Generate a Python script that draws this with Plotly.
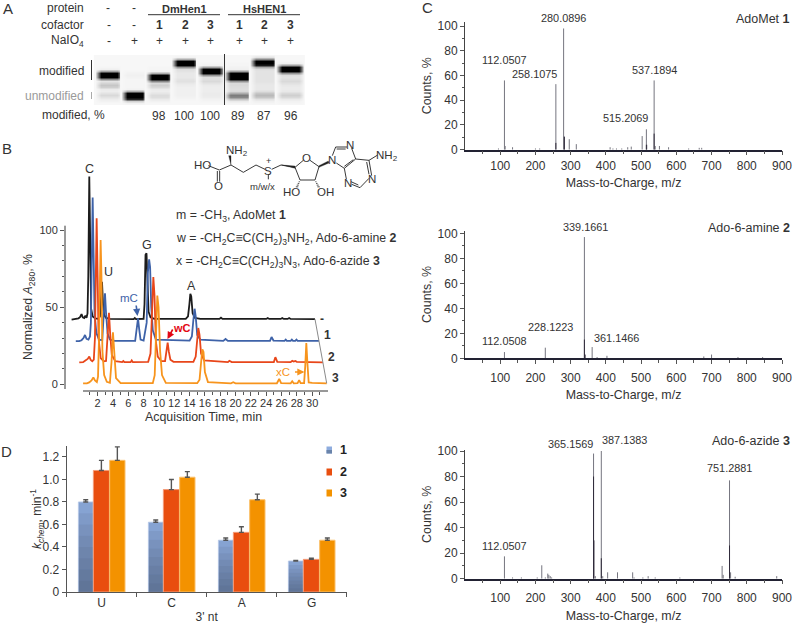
import plotly.graph_objects as go

W, H = 796, 624
FONT = "Liberation Sans"
INK = "#333333"

# ---------- Panel A data: gel ----------
lane_centers = [108.7, 134.3, 159.3, 185, 210.7, 239, 264, 290]
lane_halfwidths = [11, 10.5, 11, 11, 11, 12, 11.5, 11.5]
gel_rows = [2 * i for i in range(26)]
gel_lanes = [
    [0,0,0,0,0,0,.01,.03,.35,1,1,1,.45,.08,.14,.2,.16,.05,.04,.08,.12,.08,.04,.02,0,0],
    [0,0,0,0,0,0,0,0,.01,.02,.03,.02,.01,.01,.01,.01,.01,.02,.3,1,1,1,.85,.15,.02,0],
    [0,0,0,0,0,0,.01,.01,.02,.3,1,1,1,.45,.12,.16,.12,.05,.04,.07,.11,.1,.05,.02,0,0],
    [0,.02,.3,1,1,1,.4,.1,.08,.06,.06,.06,.08,.09,.06,.04,.03,.03,.03,.03,.03,.02,.01,0,0,0],
    [0,0,0,0,.01,.02,.35,1,1,1,.4,.1,.1,.12,.08,.05,.04,.04,.04,.05,.05,.04,.02,.01,0,0],
    [0,0,0,0,.01,.01,.02,.03,.35,1,1,1,1,.4,.12,.12,.11,.1,.12,.3,.5,.45,.2,.05,.01,0],
    [.01,.08,.45,1,1,.9,.3,.1,.08,.08,.08,.08,.08,.08,.07,.06,.06,.06,.1,.2,.25,.2,.08,.03,.01,0],
    [0,0,0,.01,.03,.35,1,1,1,.4,.1,.08,.1,.12,.09,.06,.05,.05,.06,.12,.16,.12,.05,.02,.01,0],
]
lane_cofactor = ["-", "-", "1", "2", "3", "1", "2", "3"]
lane_naio4 = ["-", "+", "+", "+", "+", "+", "+", "+"]
lane_modified = ["", "", "98", "100", "100", "89", "87", "96"]
lane_edge = [0, 0.5, 1, 1, 0.5, 0]

# ---------- Panel B data: chromatograms (time, min / normalized A280, %) ----------
black_t = [-1.4,-0.8,-0.5,-0.3,-0.1,0.05,0.25,0.4,0.55,0.68,0.78,0.91,1.03,1.15,1.35,1.7,2.1,2.3,2.42,2.57,2.7,2.85,3.1,3.6,6.7,6.85,7.0,8.0,8.12,8.25,8.38,8.5,8.65,8.9,9.4,13.5,13.8,13.98,14.1,14.22,14.4,14.7,15.4,17.9,18.1,18.3,24.0,24.2,24.4,25.9,26.1,26.3,26.8,27.0,27.2,30.37]
black_y = [42,42.3,42.8,43.5,45.5,43.4,43,44.5,43.2,46,70,134.6,75,49,44,42.8,42.5,44,54,66.5,52,45,43,42.4,42.3,43,42.3,42.5,52,84,85,66,47,43.5,42.4,42.4,44,52,58.7,57,46,43,42.4,42.4,43.2,42.4,42.4,43,42.4,42.4,43,42.4,42.4,43,42.4,42.3]

blue_t = [-0.85,-0.4,-0.1,0.15,0.35,0.55,0.8,1.0,1.12,1.22,1.35,1.47,1.6,1.85,2.2,2.6,2.78,2.96,3.1,3.3,3.6,4.2,6.9,7.08,7.27,7.42,7.6,8.0,8.4,8.55,8.72,8.85,9.0,9.2,9.6,14.0,14.3,14.5,14.66,14.8,15.0,15.4,18.4,18.7,19.0,24.5,24.7,24.95,26.4,26.55,26.7,27.2,27.35,27.5,27.8,27.95,28.1,30.9]
blue_y = [28,28,28.6,30,32,29.5,29,31,40,90,121,85,45,33,29,28.6,44,59,46,33,29,28.2,28.2,34,42.8,36,29,28.4,40,72,81,76,50,35,29,28.3,31,42,49,44,32,29,28.2,29.4,28.2,28.2,30.7,28.4,28.2,29,28.2,28.2,29,28.2,28.2,29,28.2,28.2]

red_t = [-0.4,0.1,0.4,0.7,0.91,1.1,1.3,1.5,1.65,1.76,1.87,2.0,2.12,2.4,2.8,3.1,3.3,3.48,3.62,3.85,4.3,5.2,5.35,5.5,6.3,6.45,6.6,8.6,8.9,9.08,9.27,9.42,9.6,9.85,10.3,10.8,10.98,11.14,11.3,11.5,11.9,14.5,14.8,15.0,15.14,15.3,15.5,15.9,19.0,19.2,19.5,25.0,25.2,25.45,27.2,27.4,27.6,27.8,28.0,31.4]
red_y = [14.2,14.4,15.5,16.5,18,15.8,15,16,30,80,107.6,70,30,17,15,15.2,35,46.4,34,19,15,14.4,15.1,14.4,14.4,15.5,14.4,14.6,20,50,69.5,58,28,18,15,15,21,27,21,16,14.6,14.6,18,30,36.5,32,20,15.5,14.4,15.3,14.4,14.4,17.6,14.6,14.4,15.2,14.8,15.2,14.6,14.2]

orange_t = [0.1,0.6,0.9,1.2,1.44,1.65,1.9,2.05,2.18,2.28,2.39,2.5,2.62,2.85,3.2,3.6,3.82,4.0,4.15,4.4,5.0,9.2,9.45,9.62,9.79,9.95,10.15,10.4,10.9,15.0,15.3,15.5,15.67,15.82,16.0,16.4,19.4,19.7,20.0,25.4,25.7,25.95,27.2,27.4,27.6,28.1,28.3,28.5,28.95,29.1,29.24,29.38,29.55,30.0,31.9]
orange_y = [0.6,0.7,1.3,2.5,4.5,2.5,1.5,5,30,75,93.5,70,22,6,1.6,1,15,33.7,22,4,0.8,0.8,6,30,57.5,50,22,6,1,0.8,3,14,22.7,21,8,1.5,0.7,1.4,0.7,0.7,3.5,0.8,0.7,2,0.7,0.8,2.7,0.8,0.8,12,26.8,14,1.2,0.9,0.7]

series_end_t = [30.37, 30.9, 31.4, 31.9]
series_end_y = [42.3, 28.2, 14.2, 0.7]

# ---------- Panel D data ----------
nt_categories = ["U", "C", "A", "G"]
k1 = [0.80, 0.62, 0.46, 0.275]
k2 = [1.08, 0.91, 0.53, 0.29]
k3 = [1.17, 1.02, 0.82, 0.46]
e1 = [0.02, 0.02, 0.02, 0.005]
e2 = [0.09, 0.09, 0.05, 0.01]
e3 = [0.12, 0.05, 0.05, 0.02]

# ---------- Panel C data: spectra (m/z, counts %) ----------
s1_mz = [95,112,114,135,200,212,258,280,282,296,316,412,420,430,445,462,472,503,515,516,537,540,552,578,635,665,672]
s1_ct = [1,56,3,2,1,1,53,98,10.5,8.5,4.5,2,1,1,1,2,2.5,11,16.5,4,56,3,3,2,1,1.5,1.5]
s1_dark_mz = [258,282,515,537]
s1_dark_ct = [5.5,10.5,4,13]
s2_mz = [112,228,339,361,375,403,678,700,775,845]
s2_ct = [5,8.5,97,9,1,2,1.5,3,1,1]
s2_dark_mz = [339,341]
s2_dark_ct = [15,3]
s3_mz = [112,135,160,205,218,228,235,238,242,246,365,370,387,391,405,433,476,480,505,520,540,610,730,733,751,754,767,885]
s3_ct = [17.5,1,1,1,10.5,1,4,3,2,1,98,2,100,2,5,5,5,1,1,2,1,1,10,3,77,5,1.5,2]
s3_dark_mz = [365,366,387,751]
s3_dark_ct = [80,30,16,26]


def fx(p):
    return p / W


def fy(p):
    return 1 - p / H


def dom_x(a, b):
    return [fx(a), fx(b)]


def dom_y(top, bottom):
    return [fy(bottom), fy(top)]


annotations = []
shapes = []


def text(x, y, s, size=12, color=INK, anchor="center", **kw):
    annotations.append(dict(x=fx(x), y=fy(y), xref="paper", yref="paper", text=s, showarrow=False,
                            xanchor=anchor, yanchor="middle", align=anchor if anchor != "center" else "center",
                            font=dict(size=size, color=color, family=FONT),
                            borderpad=0, **kw))


def seg(x0, y0, x1, y1, color="#222222", width=1.0):
    shapes.append(dict(type="line", xref="paper", yref="paper", x0=fx(x0), y0=fy(y0), x1=fx(x1), y1=fy(y1),
                       line=dict(color=color, width=width)))


def poly(points, color="#222222"):
    d = "M " + " L ".join(f"{fx(a):.5f} {fy(b):.5f}" for a, b in points) + " Z"
    shapes.append(dict(type="path", xref="paper", yref="paper", path=d, fillcolor=color, line=dict(color=color, width=0.3)))


fig = go.Figure()

# ---------- Panel A ----------
shapes.append(dict(type="rect", xref="paper", yref="paper", x0=fx(96), x1=fx(302), y0=fy(105), y1=fy(55),
                   fillcolor="#f7f7f7", line=dict(width=0), layer="below"))
for c, hw, vals in zip(lane_centers, lane_halfwidths, gel_lanes):
    xs = [c - hw - 2.5, c - hw, c - hw + 3, c + hw - 3, c + hw, c + hw + 2.5]
    z = [[v * e for e in lane_edge] for v in vals]
    fig.add_trace(go.Heatmap(x=xs, y=gel_rows, z=z, xaxis="x", yaxis="y", zmin=0, zmax=1, zsmooth="best",
                             colorscale=[[0, "#f7f7f7"], [1, "#000000"]], showscale=False, hoverinfo="skip"))

text(85, 8, "protein", anchor="right")
text(85, 25.5, "cofactor", anchor="right")
text(85, 41, "NaIO<sub>4</sub>", anchor="right")
text(108, 8, "-")
text(134, 8, "-")
for c, s in zip(lane_centers, lane_cofactor):
    text(c, 25.5, s if s == "-" else f"<b>{s}</b>")
for c, s in zip(lane_centers, lane_naio4):
    text(c, 41, s)
text(184, 9, "<b>DmHen1</b>", size=11)
text(264, 9, "<b>HsHEN1</b>", size=11)
seg(148, 14.7, 220, 14.7, "#333333", 1)
seg(228, 14.7, 300, 14.7, "#333333", 1)
text(85, 71, "modified", anchor="right")
text(85, 96, "unmodified", anchor="right", color="#9a9a9a")
text(41, 115, "modified, %", anchor="left")
for c, s in zip([159, 184, 210, 238, 264, 291], lane_modified[2:]):
    text(c, 115.5, s)
seg(91.5, 60, 91.5, 80, "#333333", 1)
seg(91.5, 92, 91.5, 99, "#aaaaaa", 1)
seg(224.5, 54, 224.5, 105, "#333333", 1)

# ---------- Panel B ----------
for t, y, col in [(black_t, black_y, "#1c1c1c"), (blue_t, blue_y, "#3e62a8"),
                  (red_t, red_y, "#e8461a"), (orange_t, orange_y, "#f7941d")]:
    fig.add_trace(go.Scatter(x=t, y=y, mode="lines", xaxis="x2", yaxis="y2", hoverinfo="skip",
                             line=dict(color=col, width=1.8)))
fig.add_trace(go.Scatter(x=series_end_t, y=series_end_y, mode="lines", xaxis="x2", yaxis="y2",
                         hoverinfo="skip", line=dict(color="#8a8a8a", width=1)))

text(89, 169, "C", size=12.5)
text(108, 272, "U", size=12.5)
text(147, 245, "G", size=12.5)
text(191, 286, "A", size=12.5)
text(129, 298, "mC", size=11.5, color="#3e62a8")
text(182, 328, "<b>wC</b>", size=11, color="#e30613")
text(283, 372, "xC", size=11.5, color="#f7941d")
for tx, ty, ax, ay, col in [(137.5, 316, -1.5, -12, "#3e62a8"), (167.5, 339, 6, -11, "#e30613"), (304.5, 372, -11, 0, "#f7941d")]:
    annotations.append(dict(x=fx(tx), y=fy(ty), xref="paper", yref="paper", ax=ax, ay=ay, axref="pixel", ayref="pixel",
                            text="", showarrow=True, arrowhead=2, arrowsize=0.9, arrowwidth=1.6, arrowcolor=col, standoff=0))
text(322, 319, "<b>-</b>", size=12)
text(327, 335, "<b>1</b>", size=12)
text(331, 357, "<b>2</b>", size=12)
text(335, 378, "<b>3</b>", size=12)
text(174.5, 216, "m = -CH<sub>3</sub>, AdoMet <b>1</b>", anchor="left", size=12.3)
text(174.5, 239, "w = -CH<sub>2</sub>C≡C(CH<sub>2</sub>)<sub>3</sub>NH<sub>2</sub>, Ado-6-amine <b>2</b>", anchor="left", size=12.3)
text(174.5, 262, "x = -CH<sub>2</sub>C≡C(CH<sub>2</sub>)<sub>3</sub>N<sub>3</sub>, Ado-6-azide <b>3</b>", anchor="left", size=12.3)
text(203, 416.5, "Acquisition Time, min", size=12.4)
text(29, 307, "Normalized <i>A</i><sub>280</sub>, %", size=12.3, textangle=-90)
seg(65, 225.7, 65, 389, "#333333", 1)
seg(83, 391, 328, 391, "#333333", 1)


# Structure
def sx(z):
    return 185 + z / 3


def sy(z):
    return 135 + z / 3


bonds = [
    (70, 92, 103, 105), (103, 105, 138, 90), (138, 90, 175, 112), (175, 112, 213, 90), (213, 90, 240, 103),
    (97, 108, 97, 140), (104, 108, 104, 140), (260, 103, 288, 90), (288, 90, 330, 97), (250, 120, 250, 133),
    (330, 97, 355, 76), (375, 76, 402, 95), (402, 95, 390, 135), (390, 135, 345, 135), (345, 135, 330, 97),
    (442, 62, 452, 36), (452, 36, 486, 36), (455, 42, 482, 42), (500, 40, 512, 72), (512, 72, 478, 100), (505, 74, 478, 94),
    (478, 100, 454, 84), (512, 72, 552, 76), (552, 76, 560, 122), (545, 81, 552, 118), (552, 130, 525, 158), (525, 158, 500, 148),
    (520, 150, 498, 140), (478, 100, 484, 132), (552, 76, 578, 60),
]
for a, b, c, d in bonds:
    seg(sx(a), sy(b), sx(c), sy(d), "#222222", 0.9)
poly([(sx(138), sy(90)), (sx(131), sy(62)), (sx(138), sy(62))])
poly([(sx(290), sy(90)), (sx(330), sy(93)), (sx(330), sy(100))])
poly([(sx(402), sy(92)), (sx(430), sy(78)), (sx(432), sy(84)), (sx(402), sy(97))])
for (a, b, c, d) in [(345, 135, 335, 158), (390, 135, 402, 158)]:
    for k in range(1, 5):
        u = k / 4.5
        mx, my = a + (c - a) * u, b + (d - b) * u
        hw = 1 + 3 * u
        seg(sx(mx - hw), sy(my), sx(mx + hw), sy(my), "#222222", 0.8)
atom = 11.5
text(sx(53), sy(89), "HO", size=atom)
text(sx(100), sy(154), "O", size=atom)
text(sx(155), sy(47), "NH<sub>2</sub>", size=atom)
text(sx(250), sy(108), "S", size=atom)
text(sx(250), sy(79), "+", size=9)
text(sx(232), sy(155), "m/w/x", size=9.5)
text(sx(365), sy(69), "O", size=atom)
text(sx(318), sy(172), "HO", size=atom)
text(sx(421), sy(172), "OH", size=atom)
text(sx(440), sy(74), "N", size=atom)
text(sx(496), sy(31), "N", size=atom)
text(sx(488), sy(145), "N", size=atom)
text(sx(561), sy(131), "N", size=atom)
text(sx(605), sy(64), "NH<sub>2</sub>", size=atom)

# ---------- Panel D ----------
bar_specs = [
    (k1, e1, "#8eacde", "#b9cbea", -0.333, 0.21),
    (k2, e2, "#e94e0f", "#f49a78", -0.119, 0.229),
    (k3, e3, "#f39200", "#fbc06a", 0.114, 0.219),
]
for vals, errs, col, edge, off, wid in bar_specs:
    fig.add_trace(go.Bar(x=nt_categories, y=vals, offset=off, width=wid, xaxis="x3", yaxis="y3", hoverinfo="skip",
                         marker=dict(color=col, line=dict(color=edge, width=1)),
                         error_y=dict(type="data", array=errs, arrayminus=[0, 0, 0, 0], symmetric=False,
                                      color="#555555", thickness=1.4, width=2.5)))
gradient_steps = 8
for k in range(1, gradient_steps + 1):
    layer = [v * k / gradient_steps for v in k1]
    fig.add_trace(go.Bar(x=nt_categories, y=layer, offset=-0.328, width=0.2, xaxis="x3", yaxis="y3", hoverinfo="skip",
                         marker=dict(color="rgba(60,70,90,0.085)", line=dict(width=0))))

for py, col, s in [(450, "#8eacde", "1"), (472, "#e94e0f", "2"), (493, "#f39200", "3")]:
    shapes.append(dict(type="rect", xref="paper", yref="paper", x0=fx(326.5), x1=fx(332), y0=fy(py + 3.5), y1=fy(py - 3.5),
                       fillcolor=col, line=dict(width=0)))
    text(343, py - 0.5, f"<b>{s}</b>", size=12.5, color="#222222")
shapes.append(dict(type="rect", xref="paper", yref="paper", x0=fx(326.5), x1=fx(332), y0=fy(453.5), y1=fy(450),
                   fillcolor="#6a84aa", line=dict(width=0)))
text(37, 519, "<i>k</i><sub><i>chem</i></sub>, min<sup>-1</sup>", size=12, textangle=-90)

# ---------- Panel C ----------
def sticks(mz, ct):
    xs, ys = [], []
    for m, c in zip(mz, ct):
        xs += [m, m, None]
        ys += [0, c, None]
    return xs, ys


for (mz, ct, dmz, dct, xa, ya) in [(s1_mz, s1_ct, s1_dark_mz, s1_dark_ct, "x4", "y4"),
                                   (s2_mz, s2_ct, s2_dark_mz, s2_dark_ct, "x5", "y5"),
                                   (s3_mz, s3_ct, s3_dark_mz, s3_dark_ct, "x6", "y6")]:
    xs, ys = sticks(mz, ct)
    fig.add_trace(go.Scatter(x=xs, y=ys, mode="lines", xaxis=xa, yaxis=ya, hoverinfo="skip",
                             line=dict(color="#75757f", width=1)))
    xs, ys = sticks(dmz, dct)
    fig.add_trace(go.Scatter(x=xs, y=ys, mode="lines", xaxis=xa, yaxis=ya, hoverinfo="skip",
                             line=dict(color="#2f2a3a", width=1)))

for s, x, y in [("112.0507", 504.3, 60), ("258.1075", 534.3, 74), ("280.0896", 563.3, 18), ("537.1894", 654, 70.3),
                ("515.2069", 625.3, 118.3), ("339.1661", 585, 227), ("228.1223", 550.3, 326.7), ("112.0508", 504.3, 341.3),
                ("361.1466", 616, 337.7), ("365.1569", 570.7, 443.7), ("387.1383", 624.3, 440.3), ("751.2881", 729.7, 468.3),
                ("112.0507", 504.3, 546)]:
    text(x, y, s, size=10.9)
text(790.7, 19, "AdoMet <b>1</b>", size=12.5, anchor="right")
text(790.7, 227.7, "Ado-6-amine <b>2</b>", size=12.5, anchor="right")
text(790.7, 441.3, "Ado-6-azide <b>3</b>", size=12.5, anchor="right")

# Panel letters
text(8, 9, "A", size=15)
text(6.5, 148, "B", size=15)
text(427, 8, "C", size=15)
text(6.5, 451, "D", size=15)

axfont = dict(size=12, color=INK, family=FONT)
axfont_small = dict(size=11, color=INK, family=FONT)
titlefont = dict(size=12.4, color=INK, family=FONT)


def spectrum_axes(n, x_dom, zero, hundred, t, label_shift, title_gap):
    ymax = 100 * (zero - t) / (zero - hundred)
    return {
        f"xaxis{n}": dict(domain=dom_x(*x_dom), range=[0, 900], anchor=f"y{n}", showgrid=False, zeroline=False,
                          showline=True, linecolor="#222233", linewidth=1.5, ticks="outside", ticklen=4, tickcolor="#555555",
                          tickvals=[100, 200, 300, 400, 500, 600, 700, 800, 900], tickfont=axfont, ticklabelstandoff=label_shift,
                          minor=dict(tickvals=[50, 150, 250, 350, 450, 550, 650, 750, 850], ticks="outside", ticklen=3, tickcolor="#555555"),
                          title=dict(text="Mass-to-Charge, m/z", font=titlefont, standoff=title_gap)),
        f"yaxis{n}": dict(domain=dom_y(t, zero), range=[0, ymax], anchor=f"x{n}", showgrid=False, zeroline=False,
                          showline=True, linecolor="#444444", linewidth=1, ticks="outside", ticklen=4, tickcolor="#555555",
                          tickvals=[0, 20, 40, 60, 80, 100], tickfont=axfont,
                          minor=dict(tickvals=[10, 30, 50, 70, 90], ticks="outside", ticklen=2.5, tickcolor="#555555"),
                          title=dict(text="Counts, %", font=titlefont, standoff=3)),
    }


b_top = 160
layout = dict(
    width=W, height=H, margin=dict(l=0, r=0, t=0, b=0, autoexpand=False), paper_bgcolor="white", plot_bgcolor="rgba(0,0,0,0)",
    showlegend=False, barmode="overlay", font=dict(family=FONT, color=INK),
    xaxis=dict(domain=dom_x(90, 305), range=[90, 305], visible=False, anchor="y"),
    yaxis=dict(domain=dom_y(55, 105), range=[50, 0], visible=False, anchor="x"),
    xaxis2=dict(domain=dom_x(65, 328), range=[-2.26, 32.07], anchor="y2", showgrid=False, zeroline=False, showline=False,
                ticks="outside", ticklen=3.5, tickcolor="#555555", tickvals=list(range(2, 32, 2)), tickfont=axfont_small, tickangle=0,
                ticklabelstandoff=-2,
                minor=dict(tickvals=list(range(1, 32, 2)), ticks="outside", ticklen=2.5, tickcolor="#555555")),
    yaxis2=dict(domain=dom_y(b_top, 391), range=[-4.3, (384.3 - b_top) / 1.543], anchor="x2", showgrid=False, zeroline=False, showline=False,
                ticks="outside", ticklen=4, tickcolor="#555555",
                tickvals=[0, 50, 100], tickfont=axfont_small,
                minor=dict(tickvals=[10, 20, 30, 40, 60, 70, 80, 90], ticks="outside", ticklen=2.5, tickcolor="#555555")),
    xaxis3=dict(domain=dom_x(66.7, 346.7), range=[-0.5, 3.5], type="category", categoryorder="array", categoryarray=nt_categories,
                anchor="y3", showgrid=False, zeroline=False, showline=True, linecolor="#555555", linewidth=1, ticks="outside",
                ticklen=3.5, tickcolor="#555555", tickson="boundaries", tickfont=axfont,
                title=dict(text="3' nt", font=axfont, standoff=4)),
    yaxis3=dict(domain=dom_y(445.7, 592), range=[0, 1.3], anchor="x3", showgrid=False, zeroline=False, showline=True,
                linecolor="#555555", linewidth=1, ticks="outside", ticklen=4, tickcolor="#555555",
                tickvals=[0, 0.2, 0.4, 0.6, 0.8, 1.0, 1.2], ticktext=["0", "0.2", "0.4", "0.6", "0.8", "1.0", "1.2"], tickfont=axfont),
)
layout.update(spectrum_axes(4, (465, 782), 149.7, 26, 21.7, 0, 6))
layout.update(spectrum_axes(5, (465, 782), 358.3, 233.3, 230.7, 4, 6))
layout.update(spectrum_axes(6, (465, 782), 578.7, 451, 450, 3, 7))

layout["annotations"] = annotations
layout["shapes"] = shapes
fig.update_layout(**layout)
fig.write_html("out.html", config={"displayModeBar": False},
               post_script="document.body.style.margin='0';document.documentElement.style.overflow='hidden';")
